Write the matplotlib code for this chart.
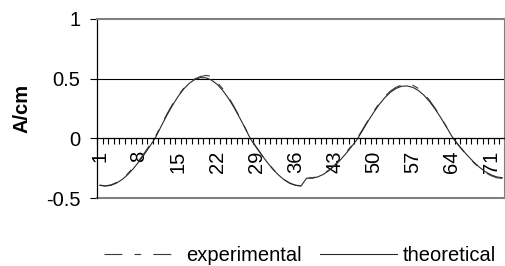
# Standing wave - experimental vs theoretical

import numpy as np
import matplotlib
matplotlib.use('Agg')
import matplotlib.pyplot as plt

'''
    Data read off the chart (A/cm per measuring point)

'''

points = list(range(1, 74))

theoretical = [-0.394, -0.400, -0.394, -0.375, -0.345, -0.304, -0.254, -0.196, -0.132, -0.063,
               0.009, 0.103, 0.193, 0.276, 0.350, 0.413, 0.461, 0.493, 0.509, 0.507,
               0.488, 0.452, 0.401, 0.337, 0.260, 0.175, 0.085, -0.007, -0.076, -0.142,
               -0.204, -0.260, -0.308, -0.348, -0.377, -0.394, -0.400, -0.334, -0.334, -0.323,
               -0.302, -0.270, -0.230, -0.183, -0.130, -0.072, -0.012, 0.065, 0.144, 0.217,
               0.284, 0.341, 0.386, 0.418, 0.436, 0.439, 0.427, 0.401, 0.361, 0.308,
               0.245, 0.174, 0.097, 0.016, -0.046, -0.102, -0.155, -0.203, -0.245, -0.280,
               -0.306, -0.323, -0.330]

experimental = [-0.392, -0.398, -0.390, -0.370, -0.338, -0.296, -0.245, -0.186, -0.121, -0.052,
                0.020, 0.112, 0.202, 0.285, 0.357, 0.418, 0.466, 0.498, 0.518, 0.527,
                0.520, 0.470, 0.415, 0.348, 0.268, 0.180, 0.088, -0.004, -0.073, -0.140,
                -0.202, -0.258, -0.306, -0.346, -0.375, -0.392, -0.398, -0.330, -0.331, -0.320,
                -0.298, -0.265, -0.224, -0.176, -0.122, -0.064, -0.004, 0.073, 0.152, 0.226,
                0.293, 0.350, 0.396, 0.428, 0.447, 0.455, 0.445, 0.418, 0.375, 0.318,
                0.252, 0.178, 0.099, 0.016, -0.048, -0.105, -0.159, -0.208, -0.251, -0.287,
                -0.313, -0.330, -0.336]

y_ticks = [-0.5, 0, 0.5, 1]
y_tick_labels = ['-0.5', '0', '0.5', '1']

'''
    Plotting

'''

plt.rcParams['font.family'] = ['Liberation Sans', 'DejaVu Sans']

fig = plt.figure(figsize=(5.06, 2.66), dpi=100)
ax = fig.add_axes([97 / 506, 1 - 198 / 266, 408 / 506, 179 / 266])

ax.plot(points, experimental, color='#3a3a3a', linewidth=0.8,
        linestyle=(0, (16, 11, 6, 11)), label='experimental')
ax.plot(points, theoretical, color='#2a2a2a', linewidth=0.8, label='theoretical')

ax.set_xlim(0.5, len(points) + 0.5)
ax.set_ylim(-0.5, 1)

# gridline and plot area border
ax.axhline(0.5, color='black', linewidth=0.8, zorder=0)
ax.axhline(-0.5, color='#808080', linewidth=1.5, clip_on=False)
for side in ['top', 'right']:
    ax.spines[side].set_color('#808080')
    ax.spines[side].set_linewidth(1.5)
ax.spines['left'].set_color('black')
ax.spines['left'].set_linewidth(0.9)
ax.spines['bottom'].set_position(('data', 0))
ax.spines['bottom'].set_linewidth(0.9)

# category axis: tick marks between categories, label every 7th
ax.set_xticks(np.arange(0.5, len(points) + 1, 1))
ax.set_xticklabels([])
ax.tick_params(axis='x', which='major', length=4.5, width=0.8, direction='out')
ax.set_xticks(points[::7], minor=True)
ax.set_xticklabels([str(p) for p in points[::7]], minor=True, rotation=90,
                   va='top', ha='center', fontsize=14.5)
ax.tick_params(axis='x', which='minor', length=0, pad=9)

ax.set_yticks(y_ticks)
ax.set_yticklabels(y_tick_labels, fontsize=14.5)
ax.tick_params(axis='y', length=5, width=0.8, pad=7)

ax.set_ylabel('A/cm', fontsize=14.5, fontweight='bold', labelpad=10)

fig.legend(loc='center', bbox_to_anchor=(0.593, 0.038), ncol=2, frameon=False,
           fontsize=14.5, handlelength=3.8, handletextpad=0.3, columnspacing=0.9,
           borderpad=0)

plt.savefig('out.png', dpi=100)
